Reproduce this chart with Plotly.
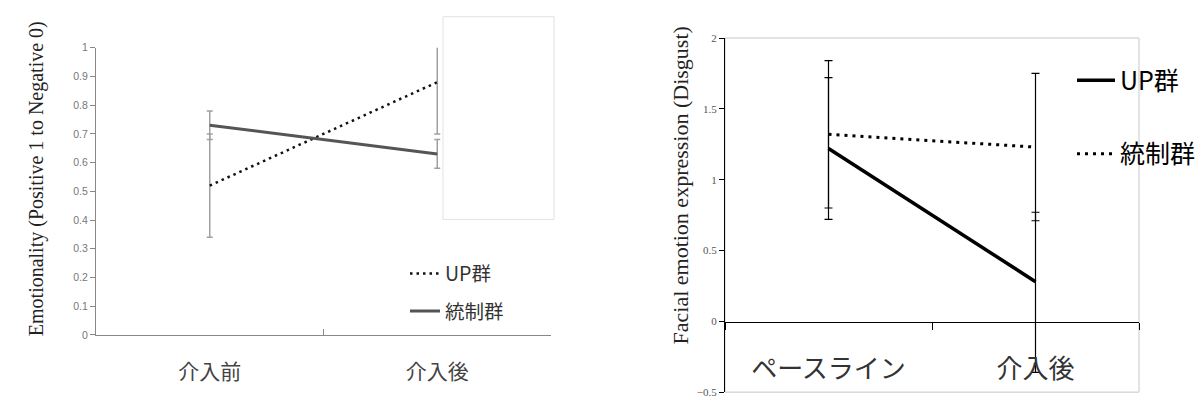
import plotly.graph_objects as go

W, H = 1204, 403

# ---- data ----
left_categories = ["介入前", "介入後"]
left_up = [0.52, 0.88]
left_up_err = [0.18, 0.18]
left_ctrl = [0.73, 0.63]
left_ctrl_err = [0.05, 0.05]
left_series_names = ["UP群", "統制群"]
left_ytitle = "Emotionality (Positive 1 to Negative 0)"

right_categories = ["ペースライン", "介入後"]
right_up = [1.22, 0.28]
right_up_err_plus = [0.50, 0.49]
right_up_err_minus = [0.50, 0.64]
right_ctrl = [1.32, 1.23]
right_ctrl_err = [0.52, 0.52]
right_series_names = ["UP群", "統制群"]
right_ytitle = "Facial emotion expression (Disgust)"


def fx(p):
    return p / W


def fy(p):
    return 1 - p / H


fig = go.Figure()

# ---- left chart ----
fig.add_trace(go.Scatter(
    x=left_categories, y=left_up, mode="lines", name=left_series_names[0],
    line=dict(color="#111111", width=2.5, dash="2.5px,4px"),
    error_y=dict(type="data", array=left_up_err, color="#a0a0a0", thickness=1.5, width=3),
    xaxis="x", yaxis="y", legend="legend", legendgroup="l1",
))
fig.add_trace(go.Scatter(
    x=left_categories, y=left_ctrl, mode="lines", name=left_series_names[1],
    line=dict(color="#555555", width=3),
    error_y=dict(type="data", array=left_ctrl_err, color="#a0a0a0", thickness=1.5, width=3),
    xaxis="x", yaxis="y", legend="legend", legendgroup="l2",
))

# ---- right chart ----
fig.add_trace(go.Scatter(
    x=right_categories, y=right_up, mode="lines", name=right_series_names[0],
    line=dict(color="#000000", width=3.5),
    error_y=dict(type="data", symmetric=False, array=right_up_err_plus,
                 arrayminus=right_up_err_minus, color="#000000", thickness=1.2, width=4),
    xaxis="x2", yaxis="y2", legend="legend2", legendgroup="r1",
))
fig.add_trace(go.Scatter(
    x=right_categories, y=right_ctrl, mode="lines", name=right_series_names[1],
    line=dict(color="#000000", width=3, dash="3px,5px"),
    error_y=dict(type="data", array=right_ctrl_err, color="#000000", thickness=1.2, width=4),
    xaxis="x2", yaxis="y2", legend="legend2", legendgroup="r2",
))

cjk = "Noto Sans CJK JP"
serif = "Liberation Serif"

fig.update_layout(
    width=W, height=H, autosize=False,
    margin=dict(l=0, r=0, t=0, b=0),
    paper_bgcolor="white", plot_bgcolor="white",
    font=dict(family=cjk, color="#333333"),
    xaxis=dict(
        domain=[fx(96), fx(551)], anchor="y", type="category",
        categoryorder="array", categoryarray=left_categories,
        range=[-0.5, 1.5], tickson="boundaries", ticks="inside", ticklen=6,
        tickcolor="#888888", showline=True, linecolor="#888888", linewidth=1,
        showgrid=False, zeroline=False,
        tickfont=dict(family=cjk, size=21, color="#444444"), ticklabelstandoff=18,
    ),
    yaxis=dict(
        domain=[fy(339), fy(43)], anchor="x", range=[0, 1], dtick=0.1,
        ticks="outside", ticklen=5, tickcolor="#888888",
        showline=True, linecolor="#888888", linewidth=1,
        showgrid=False, zeroline=False,
        tickfont=dict(family="Liberation Sans", size=10.5, color="#777777"),
    ),
    xaxis2=dict(
        domain=[fx(725), fx(1139)], anchor="free", position=fy(326), type="category",
        categoryorder="array", categoryarray=right_categories,
        range=[-0.5, 1.5], tickson="boundaries", ticks="outside", ticklen=7,
        tickcolor="#000000", showline=True, linecolor="#000000", linewidth=1.3,
        showgrid=False, zeroline=False,
        tickfont=dict(family=cjk, size=26, color="#333333"), ticklabelstandoff=23,
    ),
    yaxis2=dict(
        domain=[fy(398), fy(33)], anchor="x2", range=[-0.5, 2], dtick=0.5,
        ticks="outside", ticklen=5, tickcolor="#000000",
        showline=True, linecolor="#000000", linewidth=1.3,
        showgrid=False, zeroline=False,
        tickfont=dict(family=serif, size=11, color="#555555"),
    ),
    legend=dict(
        x=fx(405), y=fy(256), xanchor="left", yanchor="top",
        bgcolor="rgba(0,0,0,0)", font=dict(family=cjk, size=19.5, color="#333333"),
        tracegroupgap=9, itemclick=False,
    ),
    legend2=dict(
        x=fx(1072), y=fy(53), xanchor="left", yanchor="top",
        bgcolor="rgba(0,0,0,0)", font=dict(family=cjk, size=25, color="#000000"),
        tracegroupgap=38, itemclick=False, itemwidth=38,
    ),
    showlegend=True,
)

# white box overlapping the left chart (as in the source image)
fig.add_shape(type="rect", xref="paper", yref="paper",
              x0=fx(443), x1=fx(554), y0=fy(220), y1=fy(11),
              fillcolor="white", line=dict(color="#e2e2e2", width=1), layer="above")

# plot-area border of the right chart
fig.add_shape(type="rect", xref="x2 domain", yref="y2 domain",
              x0=0, x1=1, y0=0, y1=1, line=dict(color="#c8c8c8", width=1), layer="below")

# axis titles
fig.add_annotation(text=left_ytitle, xref="paper", yref="paper",
                   x=fx(23), y=fy(178), textangle=-90, showarrow=False,
                   font=dict(family=serif, size=20, color="#222222"))
fig.add_annotation(text=right_ytitle, xref="paper", yref="paper",
                   x=fx(680), y=fy(185), textangle=-90, showarrow=False,
                   font=dict(family=serif, size=22, color="#222222"))

fig.write_html("out.html", config={"displayModeBar": False},
               post_script="document.body.style.margin='0';")
